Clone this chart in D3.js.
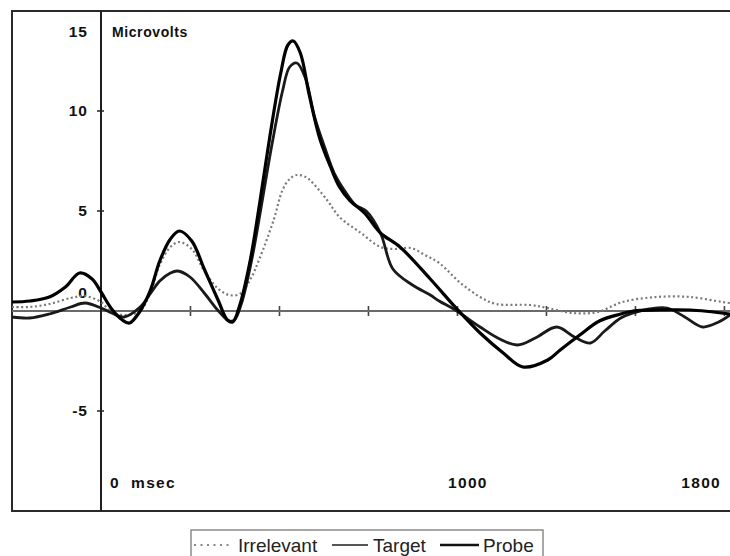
<!DOCTYPE html>
<html>
<head>
<meta charset="utf-8">
<script src="https://cdn.jsdelivr.net/npm/d3@7"></script>
<style>
  html, body { margin: 0; padding: 0; background: #fff; }
  svg { display: block; }
  text { font-family: "Liberation Sans", Arial, sans-serif; }
</style>
</head>
<body>
<svg id="chart" width="730" height="556"></svg>
<script>
// ---- data (time in ms, amplitude in microvolts) ----
const seriesNames = ["Irrelevant", "Target", "Probe"];

const irrelevantTime = [-250,-200,-145,-85,-45,0,30,65,110,140,165,195,220,255,290,330,360,390,420,445,485,510,530,550,575,595,635,670,730,785,825,870,910,950,1010,1065,1110,1205,1255,1325,1395,1465,1560,1655,1745,1767];
const irrelevantValue = [0.2,0.2,0.35,0.65,0.75,0.45,-0.05,-0.2,0.0,1.0,2.3,3.2,3.45,3.1,2.0,1.1,0.8,0.85,1.6,2.6,4.55,6.05,6.6,6.8,6.7,6.4,5.55,4.7,3.9,3.2,3.1,3.15,2.8,2.4,1.4,0.7,0.35,0.3,0.15,-0.1,-0.05,0.45,0.7,0.7,0.45,0.4];

const targetTime = [-250,-200,-145,-85,-45,0,30,65,110,140,165,195,215,250,290,330,360,375,395,425,450,480,510,530,550,575,600,630,655,685,715,745,785,820,875,925,950,995,1065,1120,1170,1220,1280,1330,1375,1415,1460,1495,1540,1590,1640,1690,1735,1767];
const targetValue = [-0.3,-0.35,-0.15,0.2,0.4,0.15,-0.1,-0.3,0.2,0.9,1.5,1.9,2.0,1.7,0.9,0.0,-0.5,-0.45,0.4,2.7,5.2,8.3,11.0,12.2,12.4,11.6,9.7,8.1,6.9,6.0,5.3,5.0,3.9,2.1,1.3,0.8,0.5,0.05,-0.8,-1.4,-1.7,-1.35,-0.8,-1.3,-1.6,-1.0,-0.35,-0.1,0.1,0.15,-0.3,-0.8,-0.55,-0.2];

const probeTime = [-250,-200,-145,-100,-60,-25,0,30,60,80,110,140,165,195,220,255,290,330,355,370,390,420,445,475,505,525,540,560,585,615,645,670,700,740,785,840,925,1000,1065,1130,1185,1255,1290,1345,1400,1460,1495,1570,1655,1767];
const probeValue = [0.45,0.5,0.7,1.2,1.9,1.6,0.95,0.1,-0.45,-0.6,0.0,1.1,2.5,3.6,4.0,3.5,2.1,0.5,-0.45,-0.55,0.3,2.6,5.3,8.8,11.9,13.3,13.5,12.9,10.8,8.6,7.2,6.2,5.5,4.9,3.9,3.2,1.6,0.1,-1.1,-2.1,-2.8,-2.45,-1.95,-1.2,-0.5,-0.15,0,0.05,0.05,-0.15];

const yTickValues = [15, 10, 5, 0, -5];
const xTickValues = [250, 500, 750, 1000, 1250, 1500, 1750];
const xLabels = [{t: 0, text: "0  msec"}, {t: 1000, text: "1000"}, {t: 1800, text: "1800"}];
const unitLabel = "Microvolts";

// ---- layout ----
const W = 730, H = 556;
const plot = {left: 12, top: 11, right: 730, bottom: 511};
const svg = d3.select("#chart");

const x = d3.scaleLinear().domain([-250, 1767]).range([plot.left, plot.right]);
const y = d3.scaleLinear().domain([-10, 15]).range([plot.bottom, plot.top]);

// frame (left, top, bottom; right edge runs off the picture)
svg.append("path")
  .attr("d", `M${plot.right + 2},${plot.top} H${plot.left} V${plot.bottom} H${plot.right + 2}`)
  .attr("fill", "none").attr("stroke", "#2a2a2a").attr("stroke-width", 2);

// horizontal zero axis with ticks
const xAxis = d3.axisBottom(x).tickValues(xTickValues).tickSize(0).tickFormat("");
const gx = svg.append("g").attr("transform", `translate(0,${y(0)})`).call(xAxis);
gx.select(".domain").remove();
gx.append("line").attr("x1", plot.left).attr("x2", plot.right).attr("stroke", "#6a6a6a").attr("stroke-width", 2);
gx.selectAll(".tick").append("line").attr("y1", -5).attr("y2", 5).attr("stroke", "#444").attr("stroke-width", 1.6);

// vertical axis at time 0
svg.append("line")
  .attr("x1", x(0)).attr("x2", x(0)).attr("y1", plot.top).attr("y2", plot.bottom)
  .attr("stroke", "#1e1e1e").attr("stroke-width", 2);
svg.selectAll(".ytick").data(yTickValues.filter(v => v !== 0 && v !== 15)).enter()
  .append("line")
  .attr("x1", x(0) - 4).attr("x2", x(0) + 3)
  .attr("y1", d => y(d)).attr("y2", d => y(d))
  .attr("stroke", "#222").attr("stroke-width", 1.5);

// y labels
svg.selectAll(".ylab").data(yTickValues).enter()
  .append("text")
  .attr("x", x(0) - 13)
  .attr("y", d => d === 15 ? y(d) + 26 : d === 0 ? y(d) - 13 : y(d) + 5)
  .attr("text-anchor", "end")
  .attr("font-size", 15.5).attr("font-weight", "bold").attr("fill", "#111")
  .attr("letter-spacing", 1)
  .text(d => d);

svg.append("text")
  .attr("x", x(0) + 11).attr("y", y(15) + 26)
  .attr("font-size", 14).attr("font-weight", "bold").attr("fill", "#111")
  .attr("letter-spacing", 0.6)
  .text(unitLabel);

// x labels
svg.selectAll(".xlab").data(xLabels).enter()
  .append("text")
  .attr("x", d => d.t === 0 ? x(0) + 9 : Math.min(x(d.t), plot.right - 9))
  .attr("y", 488)
  .attr("text-anchor", d => d.t === 0 ? "start" : (x(d.t) > plot.right - 9 ? "end" : "middle"))
  .attr("dx", d => d.t === 1000 ? 11 : 0)
  .attr("font-size", 15.5).attr("font-weight", "bold").attr("fill", "#111")
  .attr("letter-spacing", 1.3)
  .style("white-space", "pre")
  .text(d => d.text);

// lines
const styles = {
  Irrelevant: {stroke: "#7a7a7a", width: 2.2, dash: "2,2.6"},
  Target:     {stroke: "#1a1a1a", width: 2.8, dash: null},
  Probe:      {stroke: "#000000", width: 3.2, dash: null}
};
const seriesData = [
  {name: "Irrelevant", pts: d3.zip(irrelevantTime, irrelevantValue)},
  {name: "Target", pts: d3.zip(targetTime, targetValue)},
  {name: "Probe", pts: d3.zip(probeTime, probeValue)}
];
const line = d3.line().x(d => x(d[0])).y(d => y(d[1])).curve(d3.curveCatmullRom.alpha(0.5));
svg.append("clipPath").attr("id", "clip").append("rect")
  .attr("x", plot.left).attr("y", plot.top).attr("width", plot.right - plot.left).attr("height", plot.bottom - plot.top);
svg.append("g").attr("clip-path", "url(#clip)")
  .selectAll("path").data(seriesData).enter()
  .append("path")
  .attr("d", d => line(d.pts))
  .attr("fill", "none")
  .attr("stroke", d => styles[d.name].stroke)
  .attr("stroke-width", d => styles[d.name].width)
  .attr("stroke-dasharray", d => styles[d.name].dash)
  .attr("stroke-linejoin", "round");

// legend
const legend = svg.append("g");
legend.append("rect")
  .attr("x", 191).attr("y", 530).attr("width", 352).attr("height", 34)
  .attr("fill", "#fff").attr("stroke", "#8a8a8a").attr("stroke-width", 1.5);
const legendItems = [
  {name: "Irrelevant", x0: 194, x1: 232, tx: 238, stroke: "#888", width: 2.2, dash: "2,4.5"},
  {name: "Target", x0: 332, x1: 368, tx: 373, stroke: "#555", width: 2, dash: null},
  {name: "Probe", x0: 440, x1: 479, tx: 483, stroke: "#111", width: 2.4, dash: null}
];
legendItems.forEach(it => {
  legend.append("line").attr("x1", it.x0).attr("x2", it.x1).attr("y1", 545).attr("y2", 545)
    .attr("stroke", it.stroke).attr("stroke-width", it.width).attr("stroke-dasharray", it.dash);
  legend.append("text").attr("x", it.tx).attr("y", 552)
    .attr("font-size", 19).attr("fill", "#222").text(it.name);
});
</script>
</body>
</html>
